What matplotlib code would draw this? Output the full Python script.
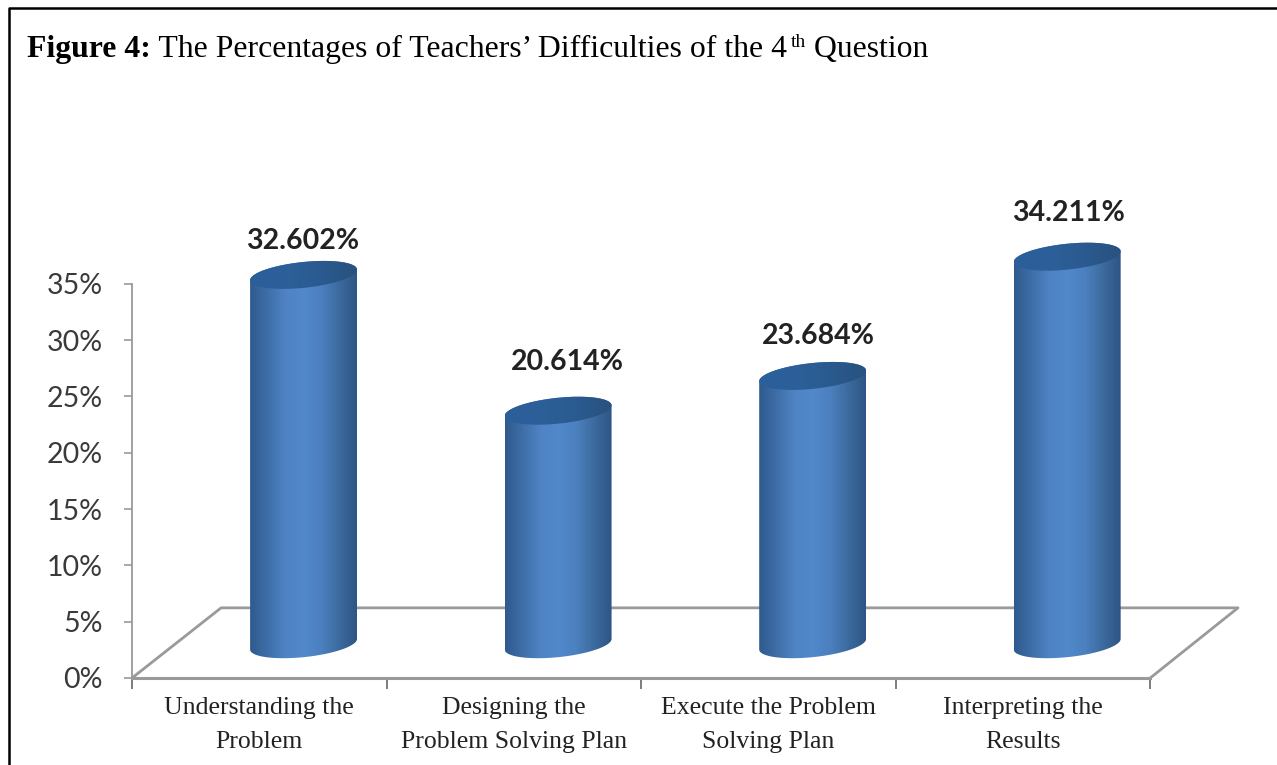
"""Figure 4: 3D-look cylinder column chart of teachers' difficulties."""
import numpy as np
import matplotlib
matplotlib.use("Agg")
import matplotlib.pyplot as plt
from matplotlib.colors import LinearSegmentedColormap
from matplotlib.lines import Line2D
from matplotlib.patches import Polygon

categories = ["Understanding the\nProblem", "Designing the\nProblem Solving Plan",
              "Execute the Problem\nSolving Plan", "Interpreting the\nResults"]
values = [32.602, 20.614, 23.684, 34.211]
y_ticks = [0, 5, 10, 15, 20, 25, 30, 35]

# label nudges in pixels, the labels in the picture sit unevenly
label_dx = [-0.5, 9.5, 6, 1.5]
label_dy = [34, 49, 39.5, 43.5]

W, H = 1277, 765
GREY = "#9a9a9a"
DEPTH_X = 0.174     # cylinders stand this far back on the floor
BASE = 3.0
SQUASH = 1.006
HALF_W = 0.21
ELL_H = 1.15
TILT = 0.47

body_cmap = LinearSegmentedColormap.from_list(
    "body", ["#2f5a8e", "#3f6fa8", "#4f83c4", "#5189cb", "#4c80bf", "#3c6b9f", "#2e5584"])
cap_cmap = LinearSegmentedColormap.from_list(
    "cap", ["#2b5f9b", "#2d6099", "#2a5a8f", "#28527f"])

fig = plt.figure(figsize=(W / 100, H / 100), dpi=100, facecolor="white")
ax = fig.add_axes([132 / W, (H - 678) / H, 1120 / W, 506.7 / H])
ax.set_xlim(0, 4.4)
ax.set_ylim(0, 45)
ax.patch.set_visible(False)

# floor
ax.plot([0, 0.35, 4.345, 4], [0, 6.23, 6.23, 0], color=GREY, lw=2, zorder=1)

# cylinders
t_low = np.linspace(np.pi, 2 * np.pi, 80)
t_up = np.linspace(0, np.pi, 80)
t_all = np.linspace(0, 2 * np.pi, 160)
for i, v in enumerate(values):
    cx = i + 0.5 + DEPTH_X
    top = BASE + v * SQUASH
    low_x = cx + HALF_W * np.cos(t_low)
    low_y = BASE + ELL_H * np.sin(t_low) + TILT * np.cos(t_low)
    up_x = cx + HALF_W * np.cos(t_up)
    up_y = top + ELL_H * np.sin(t_up) + TILT * np.cos(t_up)
    body = Polygon(np.column_stack([np.r_[low_x, up_x], np.r_[low_y, up_y]]),
                   transform=ax.transData, facecolor="none", edgecolor="none")
    ax.add_patch(body)
    im = ax.imshow(np.linspace(0, 1, 200)[None, :], cmap=body_cmap, aspect="auto",
                   extent=[cx - HALF_W, cx + HALF_W, BASE - 3, top + 3], zorder=3)
    im.set_clip_path(body)

    cap = Polygon(np.column_stack([cx + HALF_W * np.cos(t_all),
                                   top + ELL_H * np.sin(t_all) + TILT * np.cos(t_all)]),
                  transform=ax.transData, facecolor="none", edgecolor="none")
    ax.add_patch(cap)
    im2 = ax.imshow(np.linspace(0, 1, 200)[None, :], cmap=cap_cmap, aspect="auto",
                    extent=[cx - HALF_W, cx + HALF_W, top - 3, top + 3], zorder=4)
    im2.set_clip_path(cap)

    ax.annotate(f"{v:.3f}%", (cx, top), xytext=(label_dx[i] * 0.72, label_dy[i] * 0.72),
                textcoords="offset points", ha="center", va="center",
                fontsize=20.5, fontweight="bold", family="Lato", color="#222222", zorder=5)

ax.set_xlim(0, 4.4)
ax.set_ylim(0, 45)

# axes
for s in ["top", "right"]:
    ax.spines[s].set_visible(False)
ax.spines["left"].set_bounds(0, 35)
ax.spines["bottom"].set_bounds(0, 4)
ax.spines["left"].set_color(GREY)
ax.spines["left"].set_linewidth(1.3)
ax.spines["bottom"].set_color(GREY)
ax.spines["bottom"].set_linewidth(2.2)

ax.set_yticks(y_ticks)
ax.set_yticklabels([f"{t}%" for t in y_ticks], family="Lato", fontsize=20.5, color="#3a3a3a")
ax.tick_params(axis="y", length=6, width=1.2, color=GREY, pad=15)
ax.set_xticks(range(5))
ax.set_xticklabels([])
ax.tick_params(axis="x", which="major", length=8, width=1.2, color="#666666")
ax.set_xticks(np.arange(len(categories)) + 0.5, minor=True)
ax.set_xticklabels(categories, minor=True, family="Liberation Serif", fontsize=18.5,
                   color="#222222", linespacing=1.7)
ax.tick_params(axis="x", which="minor", length=0, pad=13.5)

# title, built piece by piece because of the bold start and the superscript
y_title = (H - 57) / H
renderer = fig.canvas.get_renderer()
x = 27 / W
pieces = [("Figure 4:", "bold", 22.9, 0),
          (" The Percentages of Teachers\u2019 Difficulties of the 4", "normal", 22.9, 0),
          ("th", "normal", 14, 10 / H),
          (" Question", "normal", 22.9, 0)]
for txt, weight, size, rise in pieces:
    t = fig.text(x, y_title + rise, txt, family="Liberation Serif", fontweight=weight,
                 fontsize=size, color="black", va="baseline", ha="left")
    # leading spaces are not measured, so measure with a stand-in
    w = fig.text(0, 0, txt.replace(" ", "\u00a0"), family="Liberation Serif", fontweight=weight,
                 fontsize=size, alpha=0)
    x += w.get_window_extent(renderer).width / W
    w.remove()

# frame, only left and top are in the picture
fig.add_artist(Line2D([a / W for a in [8.5, 8.5, W]],
                      [(H - b) / H for b in [H, 8, 8]], color="black", lw=1.8))

fig.savefig("out.png", dpi=100)
